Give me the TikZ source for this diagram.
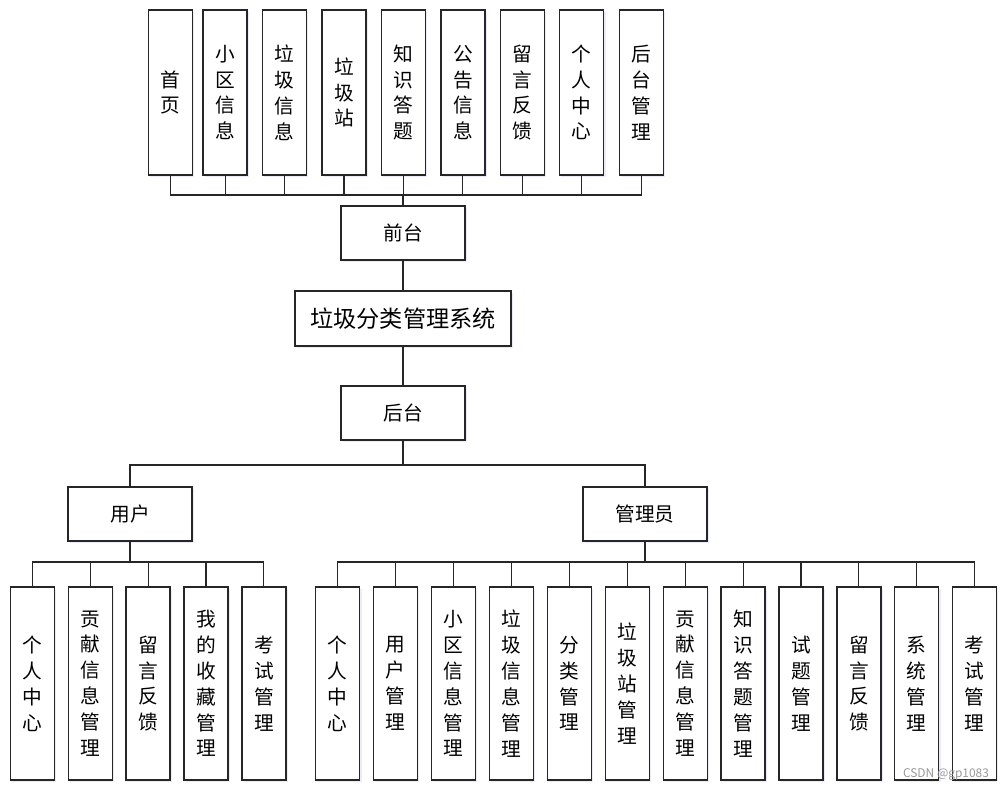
\documentclass[tikz,border=0pt]{standalone}
\usepackage{fontspec}
\setmainfont{Noto Sans CJK SC}
\usetikzlibrary{positioning,calc,shadows}

\begin{document}
\begin{tikzpicture}[x=0.025cm,y=-0.025cm,
  box/.style={draw=black!85,line width=0.9pt,fill=white,inner sep=0pt,align=center,
    font=\fontsize{14}{18.4}\selectfont,
    drop shadow={shadow xshift=1.2pt,shadow yshift=-1.2pt,fill=blue!20,opacity=0.4}},
  topbox/.style={box,minimum width=1.1cm,minimum height=4.125cm},
  leafbox/.style={box,minimum width=1.1cm,minimum height=4.825cm},
  midbox/.style={box,minimum width=3.1cm,minimum height=1.35cm},
  link/.style={line width=0.8pt,black!85}]
  \useasboundingbox (0,0) rectangle (1003,792);
  \def\cx{403}    % 中轴
  % 前台模块
  \foreach \x/\t [count=\i] in {170.3/首\\页,225.1/小\\区\\信\\息,284.5/垃\\圾\\信\\息,
      344/垃\\圾\\站,403.4/知\\识\\答\\题,462.9/公\\告\\信\\息,522.3/留\\言\\反\\馈,
      581.8/个\\人\\中\\心,641.2/后\\台\\管\\理}
    \node[topbox] (t\i) at (\x,92.5) {\t};
  \node[midbox] (qiantai) at (\cx,233) {前台};
  \node[box,minimum width=5.4cm,minimum height=1.375cm,font=\fontsize{16.5}{20}\selectfont]
    (xitong) at (\cx,318.5) {垃圾分类管理系统};
  \node[midbox] (houtai) at (\cx,413) {后台};
  \node[midbox] (yonghu) at (130,514) {用户};
  \node[midbox] (guanli) at (645,514) {管理员};
  % 用户模块
  \foreach \t [count=\i] in {个\\人\\中\\心,贡\\献\\信\\息\\管\\理,留\\言\\反\\馈,
      我\\的\\收\\藏\\管\\理,考\\试\\管\\理}
    \node[leafbox] (u\i) at ({32.3+(\i-1)*57.9},683.5) {\t};
  % 管理员模块
  \foreach \t [count=\i] in {个\\人\\中\\心,用\\户\\管\\理,小\\区\\信\\息\\管\\理,
      垃\\圾\\信\\息\\管\\理,分\\类\\管\\理,垃\\圾\\站\\管\\理,贡\\献\\信\\息\\管\\理,
      知\\识\\答\\题\\管\\理,试\\题\\管\\理,留\\言\\反\\馈,系\\统\\管\\理,考\\试\\管\\理}
    \node[leafbox] (a\i) at ({337.8+(\i-1)*57.9},683.5) {\t};
  % 连线
  \coordinate (fbus) at (\cx,195);
  \coordinate (bbus) at (\cx,465);
  \coordinate (ubus) at (130,562);
  \coordinate (abus) at (645,562);
  \foreach \i in {1,...,9}
    \draw[link] (qiantai.north) -- (fbus) -| (t\i.south);
  \draw[link] (qiantai.south) -- (xitong.north);
  \draw[link] (xitong.south) -- (houtai.north);
  \draw[link] (houtai.south) -- (bbus) -| (yonghu.north);
  \draw[link] (houtai.south) -- (bbus) -| (guanli.north);
  \foreach \i in {1,...,5}
    \draw[link] (yonghu.south) -- (ubus) -| (u\i.north);
  \foreach \i in {1,...,12}
    \draw[link] (guanli.south) -- (abus) -| (a\i.north);
  \node[text=black!40,font=\fontsize{8.5}{9}\selectfont] (mark) at (946,775) {CSDN @gp1083};
\end{tikzpicture}
\end{document}
